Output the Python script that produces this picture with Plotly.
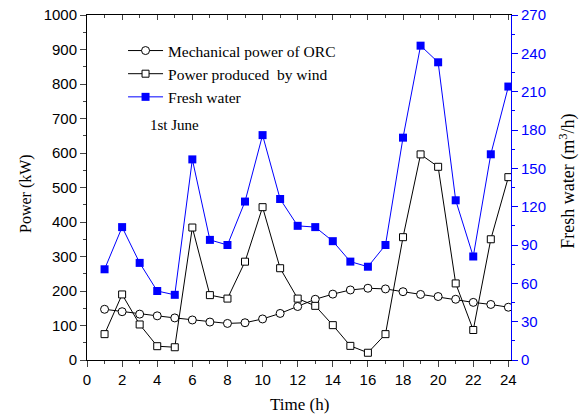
import plotly.graph_objects as go

# data (hour of day, 1st June)
hours = list(range(1, 25))
orc_power = [147, 140, 133, 128, 122, 116, 110, 106, 108, 119, 135, 155,
             176, 191, 203, 208, 206, 198, 190, 184, 176, 167, 161, 153]
wind_power = [75, 190, 103, 40, 37, 384, 188, 178, 285, 443, 266, 178,
              157, 101, 41, 21, 75, 356, 596, 560, 222, 87, 350, 530]
fresh_water = [71, 104, 76, 54, 51, 157, 94, 90, 124, 176, 126, 105,
               104, 93, 77, 73, 90, 174, 246, 233, 125, 81, 161, 214]

serif = "Liberation Serif"
sans = "Liberation Sans"

fig = go.Figure()

fig.add_trace(go.Scatter(
    x=hours, y=orc_power, name="Mechanical power of ORC",
    mode="lines+markers",
    line=dict(color="black", width=1),
    marker=dict(symbol="circle", size=8, color="white",
                line=dict(color="black", width=1)),
))
fig.add_trace(go.Scatter(
    x=hours, y=wind_power, name="Power produced  by wind",
    mode="lines+markers",
    line=dict(color="black", width=1),
    marker=dict(symbol="square", size=7, color="white",
                line=dict(color="black", width=1)),
))
fig.add_trace(go.Scatter(
    x=hours, y=fresh_water, name="Fresh water", yaxis="y2",
    mode="lines+markers",
    line=dict(color="blue", width=1),
    marker=dict(symbol="square", size=8, color="blue"),
))
# invisible trace so the top axis gets drawn
fig.add_trace(go.Scatter(x=[0], y=[0], xaxis="x2", mode="markers",
                         marker=dict(opacity=0), showlegend=False,
                         hoverinfo="skip"))

xr = [0, 24.15]
fig.update_layout(
    width=579, height=418,
    margin=dict(l=87, r=68, t=15, b=58),
    plot_bgcolor="white", paper_bgcolor="white",
    font=dict(family=sans, size=15, color="black"),
    showlegend=True,
    legend=dict(x=0.085, y=0.945, xanchor="left", yanchor="top",
                bgcolor="rgba(0,0,0,0)", font=dict(family=serif, size=15.5),
                tracegroupgap=0, itemwidth=35),
    xaxis=dict(
        range=xr, tick0=0, dtick=2, ticks="outside", ticklen=6,
        minor=dict(dtick=1, ticks="outside", ticklen=3),
        showline=True, linecolor="black", linewidth=1, showgrid=False,
        zeroline=False, automargin=False, ticklabeloverflow="allow",
    ),
    xaxis2=dict(
        range=xr, overlaying="x", side="top", tick0=0, dtick=2,
        ticks="inside", ticklen=5,
        minor=dict(dtick=1, ticks="inside", ticklen=3),
        showticklabels=False, showline=True, linecolor="black",
        showgrid=False, zeroline=False, automargin=False,
    ),
    yaxis=dict(
        range=[0, 1000], dtick=100, ticks="outside", ticklen=6,
        minor=dict(dtick=50, ticks="outside", ticklen=3),
        showline=True, linecolor="black", linewidth=1, showgrid=False,
        zeroline=False, automargin=False, ticklabeloverflow="allow",
    ),
    yaxis2=dict(
        range=[0, 270], dtick=30, overlaying="y", side="right",
        ticks="outside", ticklen=6,
        minor=dict(dtick=15, ticks="outside", ticklen=3),
        showline=True, linecolor="blue", linewidth=1, tickcolor="blue",
        tickfont=dict(color="blue"), showgrid=False, zeroline=False,
        automargin=False, ticklabeloverflow="allow",
    ),
)

# axis titles as annotations so they sit where the reference has them
fig.add_annotation(text="Time (h)", xref="paper", yref="paper",
                   x=0.5, y=-0.13, xanchor="center", yanchor="middle",
                   showarrow=False, font=dict(family=serif, size=17))
fig.add_annotation(text="Power (kW)", xref="paper", yref="paper",
                   x=-0.144, y=0.484, xanchor="center", yanchor="middle",
                   textangle=-90, showarrow=False,
                   font=dict(family=serif, size=16))
fig.add_annotation(text="Fresh water (m<sup>3</sup>/h)", xref="paper",
                   yref="paper", x=1.134, y=0.519, xanchor="center",
                   yanchor="middle", textangle=-90, showarrow=False,
                   font=dict(family=serif, size=18, color="black"))
fig.add_annotation(text="1st June", xref="paper", yref="paper",
                   x=0.144, y=0.681, xanchor="left", yanchor="middle",
                   showarrow=False, font=dict(family=serif, size=15))

# drop the browser's default 8px body margin so the figure fills the window
fig.write_html("out.html", config={"displayModeBar": False},
               post_script="document.body.style.margin='0px';")
